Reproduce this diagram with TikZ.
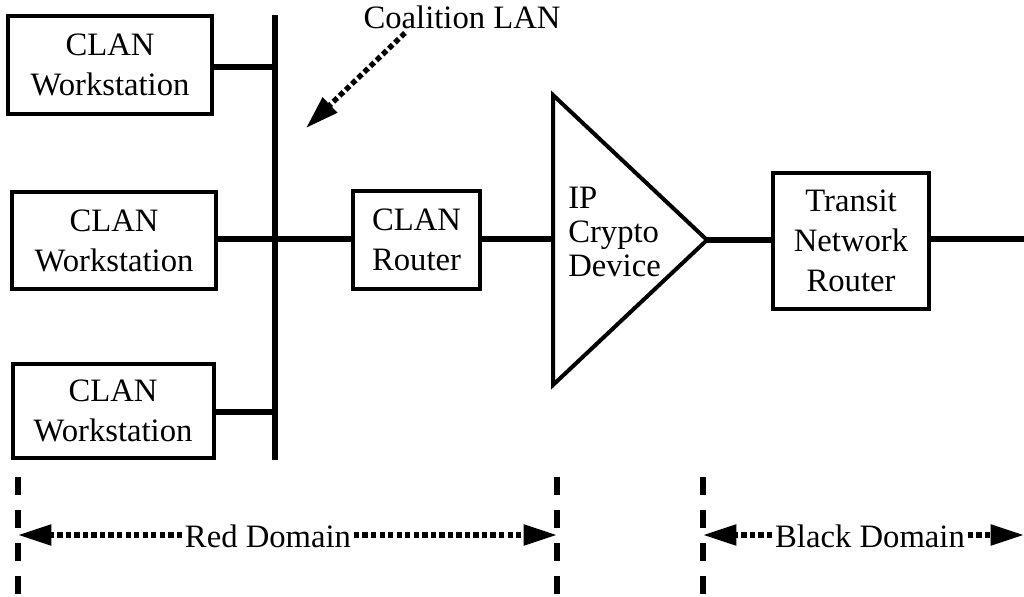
\documentclass[tikz,border=0pt]{standalone}
\usepackage{fontspec}
\setmainfont{Liberation Serif}
\usetikzlibrary{arrows.meta}

\tikzset{
  box/.style={draw, line width=3pt, inner sep=0pt, align=center,
              font=\fontsize{24.5}{30}\selectfont},
  link/.style={line width=4.2pt},
  bus/.style={line width=4pt},
  label/.style={inner sep=0pt, font=\fontsize{24.5}{30}\selectfont},
  dotarrow/.style={line width=4pt, dash pattern=on 4pt off 2.4pt,
                   -{Triangle[length=25pt,width=15pt]}},
  boundary/.style={line width=4.5pt, dash pattern=on 13.5pt off 11.25pt}
}

\begin{document}
\begin{tikzpicture}[x=0.75pt,y=-0.75pt]
  \useasboundingbox (0,0) rectangle (1024,596);

  % LAN backbone and its taps
  \coordinate (bustop) at (275,15);
  \coordinate (busbot) at (275,460);
  \coordinate (tap1) at (275,67);
  \coordinate (tap2) at (275,239);
  \coordinate (tap3) at (275,412);
  \draw[bus] (bustop) -- (busbot);

  % workstations
  \node[box, minimum width=153pt, minimum height=73.5pt] (ws1) at (110,65) {CLAN\\Workstation};
  \node[box, minimum width=153pt, minimum height=72.75pt] (ws2) at (114,240.5) {CLAN\\Workstation};
  \node[box, minimum width=150.75pt, minimum height=70.5pt] (ws3) at (113,411) {CLAN\\Workstation};

  \draw[link] (ws1.east |- tap1) -- (tap1);
  \draw[link] (ws2.east |- tap2) -- (tap2);
  \draw[link] (ws3.east |- tap3) -- (tap3);

  % router
  \node[box, minimum width=95.25pt, minimum height=73.5pt] (rtr) at (416.5,239.5) {CLAN\\Router};
  \draw[link] (tap2) -- (rtr.west |- tap2);

  % crypto device (triangle)
  \coordinate (tri-top) at (553,95);
  \coordinate (tri-bot) at (553,385);
  \coordinate (tri-apex) at (707,240);
  \coordinate (tri-in) at (553,239);
  \draw[line width=3pt, line join=miter] (tri-top) -- (tri-apex) -- (tri-bot) -- cycle;
  \node[label, align=left, anchor=north west, font=\fontsize{24.5}{25.5}\selectfont]
    (crypto) at (568,187) {IP\\Crypto\\Device};
  \draw[link] (rtr.east |- tri-in) -- (tri-in);

  % transit router
  \node[box, minimum width=117pt, minimum height=102pt] (transit) at (851,241) {Transit\\Network\\Router};
  \coordinate (wan) at (1024,239);
  \draw[link] (tri-apex) -- (transit.west |- tri-apex);
  \draw[link] (transit.east |- wan) -- (wan);

  % coalition LAN callout
  \node[label, anchor=base] (clan) at (462,28) {Coalition LAN};
  \coordinate (clan-from) at (405,33);
  \coordinate (clan-to) at (306,128);
  \draw[dotarrow] (clan-from) -- (clan-to);

  % domain boundaries
  \coordinate (redL) at (18,535);
  \coordinate (redR) at (557,535);
  \coordinate (blkL) at (703,535);
  \coordinate (blkR) at (1024,535);
  \draw[boundary] (18,477) -- (18,596);
  \draw[boundary] (557,477) -- (557,596);
  \draw[boundary] (703,477) -- (703,596);

  \node[label, inner xsep=2pt] (red) at (268,536) {Red Domain};
  \node[label, inner xsep=2pt] (black) at (870,536) {Black Domain};
  \draw[dotarrow] (red.west |- redL) -- (redL);
  \draw[dotarrow] (red.east |- redR) -- (redR);
  \draw[dotarrow] (black.west |- blkL) -- (blkL);
  \draw[dotarrow] (black.east |- blkR) -- (blkR);
\end{tikzpicture}
\end{document}
